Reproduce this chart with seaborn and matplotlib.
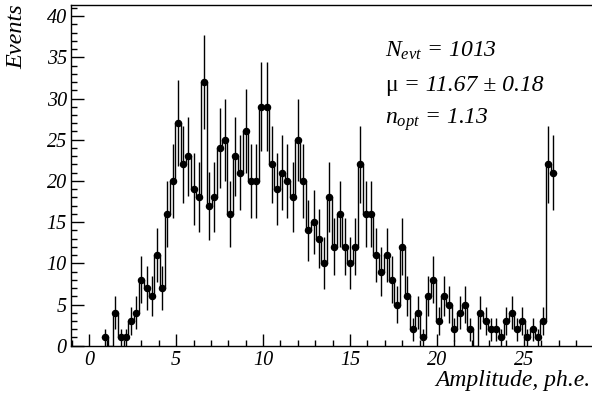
import numpy as np
import pandas as pd
import matplotlib
matplotlib.use("Agg")
import matplotlib.pyplot as plt
import seaborn as sns
from matplotlib.transforms import offset_copy

# ---- data ----
bin_width = 0.3
first_center = 0.9
counts = [1, 0, 4, 1, 1, 3, 4, 8, 7, 6,
          11, 7, 16, 20, 27, 22, 23, 19, 18, 32,
          17, 18, 24, 25, 16, 23, 21, 26, 20, 20,
          29, 29, 22, 19, 21, 20, 18, 25, 20, 14,
          15, 13, 10, 18, 12, 16, 12, 10, 12, 22,
          16, 16, 11, 9, 11, 8, 5, 12, 6, 2,
          4, 1, 6, 8, 3, 6, 5, 2, 4, 5,
          2, 0, 4, 3, 2, 2, 1, 3, 4, 2,
          3, 1, 2, 1, 3, 22, 21]
xticks = [0, 5, 10, 15, 20, 25]
yticks = [0, 5, 10, 15, 20, 25, 30, 35, 40]
n_evt = "1013"
mu_text = " = 11.67 \u00b1 0.18"
n_opt = "1.13"
xlabel = "Amplitude, ph.e."
ylabel = "Events"

counts = np.array(counts, dtype=float)
centers = first_center + bin_width * np.arange(len(counts))
edges = list(np.concatenate([centers - bin_width / 2, [centers[-1] + bin_width / 2]]))
df = pd.DataFrame({"amp": centers, "n": counts})

sns.set_theme(style="ticks")
plt.rcParams["font.family"] = ["Liberation Serif", "DejaVu Serif"]
plt.rcParams["font.style"] = "italic"
plt.rcParams["text.color"] = "black"
plt.rcParams["axes.labelcolor"] = "black"
plt.rcParams["xtick.color"] = "black"
plt.rcParams["ytick.color"] = "black"
plt.rcParams["mathtext.fontset"] = "custom"
plt.rcParams["mathtext.rm"] = "Liberation Serif"
plt.rcParams["mathtext.it"] = "Liberation Serif:italic"
plt.rcParams["mathtext.bf"] = "Liberation Serif:bold"

fig = plt.figure(figsize=(5.92, 3.93), dpi=100)
ax = fig.add_axes([71 / 592, 47.3 / 393, 1 - 71 / 592, 340.7 / 393])

sns.histplot(data=df, x="amp", weights="n", bins=edges, element="step", fill=False,
             color="black", linewidth=1.0, ax=ax)

nz = counts > 0
ax.errorbar(centers[nz], counts[nz], yerr=np.sqrt(counts[nz]), fmt="o",
            color="black", ms=4.4, elinewidth=1.0, capsize=0, zorder=5)

ax.set_xlim(-1.05, 28.92)
ax.set_ylim(0, 41.35)
ax.set_xticks(xticks)
ax.set_yticks(yticks)
ax.set_xticks(np.arange(-1, 29, 1), minor=True)
ax.set_yticks(np.arange(0, 42, 1), minor=True)
ax.tick_params(axis="both", which="major", direction="in", length=9, width=1.0,
               labelsize=14.5, colors="black")
ax.tick_params(axis="both", which="minor", direction="in", length=4.5, width=1.0)
ax.tick_params(axis="x", which="major", pad=4)
ax.tick_params(axis="y", which="major", pad=3)
ax.set_xlabel("")
ax.set_ylabel("")
ax.spines["right"].set_visible(False)
for s in ["left", "bottom", "top"]:
    ax.spines[s].set_linewidth(1.0)
    ax.spines[s].set_color("black")

fig.text(0.997, 7 / 393, xlabel, ha="right", va="baseline", fontsize=17, style="italic")
fig.text(0.029, 0.988, ylabel, ha="center", va="top", rotation=90, fontsize=17.5,
         style="italic")

tx = 385 / 592
fs = 17
fig.text(tx, (393 - 57) / 393, r"$N_{evt}$ = " + n_evt, fontsize=fs,
         style="italic", va="baseline")
mu = fig.text(tx, (393 - 91) / 393, "\u03bc", fontsize=fs, style="normal",
              va="baseline")
fig.canvas.draw()
r = fig.canvas.get_renderer()
w = mu.get_window_extent(renderer=r).width
fig.text(tx + w / 592, (393 - 91) / 393, mu_text, fontsize=fs,
         style="italic", va="baseline")
fig.text(tx, (393 - 124) / 393, r"$n_{opt}$ = " + n_opt, fontsize=fs,
         style="italic", va="baseline")

fig.savefig("out.png", dpi=100)
